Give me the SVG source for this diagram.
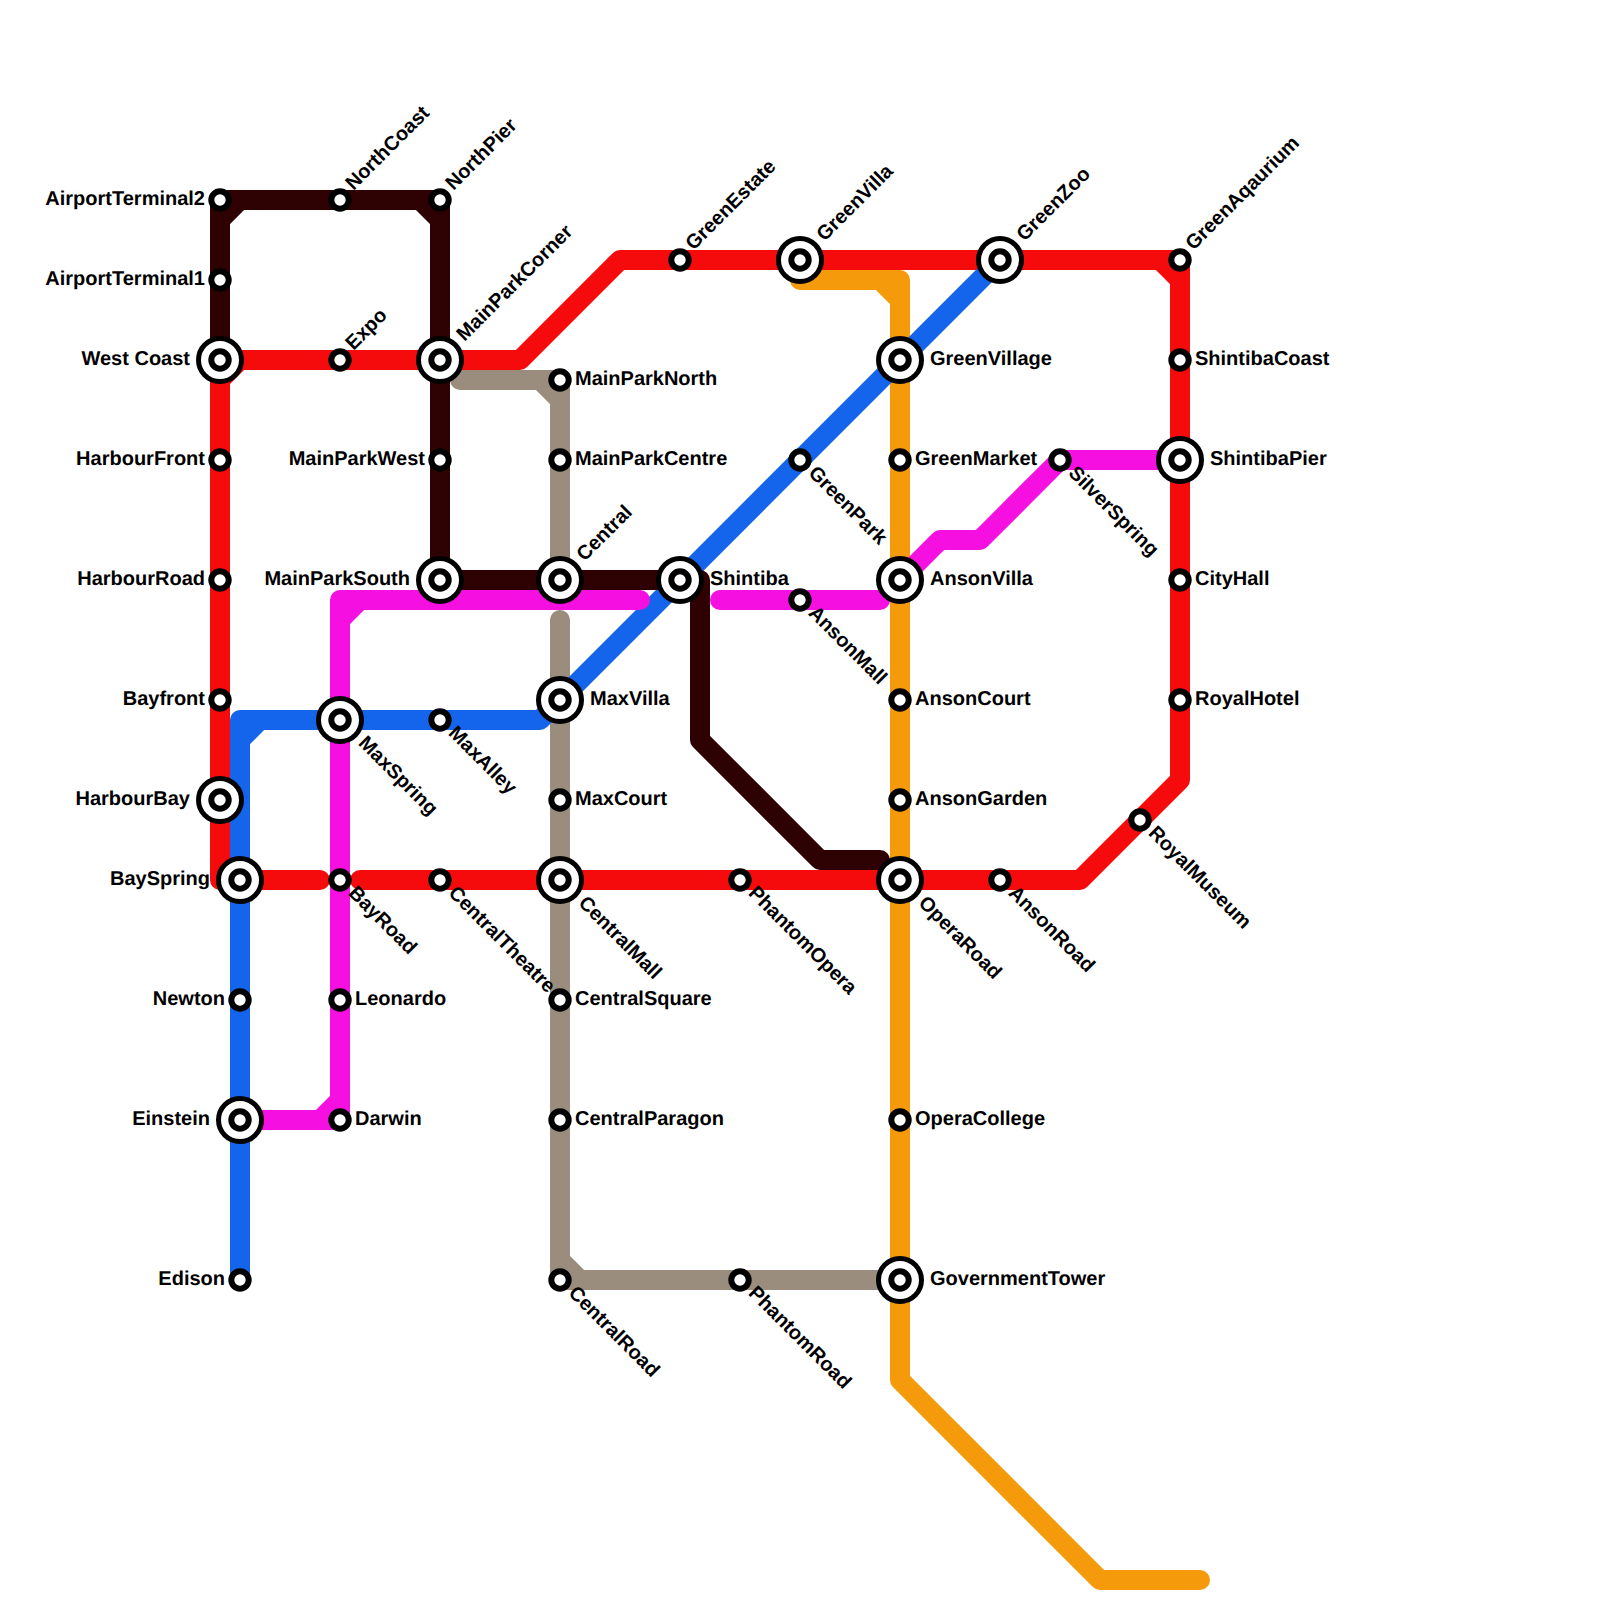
<svg xmlns="http://www.w3.org/2000/svg" width="1600" height="1600" viewBox="0 0 1600 1600">
<defs>
<style>
.l{fill:none;stroke-width:20;stroke-linecap:round;stroke-linejoin:round}
.s{fill:#fff;stroke:#000;stroke-width:6}
.o{fill:#fff;stroke:#000;stroke-width:5}
text{font-family:"Liberation Sans",Arial,sans-serif;font-weight:700;font-size:20px;fill:#000;text-rendering:geometricPrecision}
.e{text-anchor:end}
</style>
<g id="sm"><circle class="s" r="8.7"/></g>
<g id="ix"><circle class="o" r="21.5"/><circle class="s" r="8.7"/></g>
</defs>
<rect width="1600" height="1600" fill="#fff"/>
<g id="connectors">
<path class="l" stroke="#f50b0b" d="M360,880H1080L1180,780V260H620L520,360H220V880H320M1160,260L1180,280M220,380L240,360"/>
<path class="l" stroke="#9a8d7d" d="M460,380H560V580M540,380L560,400M560,620V1280H900M560,1260L580,1280"/>
<path class="l" stroke="#f59a0b" d="M800,280H900V1380L1100,1580H1200M880,280L900,300"/>
<path class="l" stroke="#1565ec" d="M240,1280V720H540L1000,260M240,740L260,720"/>
<path class="l" stroke="#f50fe0" d="M640,600H340V1120H240M340,620L360,600M340,1100L320,1120M720,600H880M900,580L940,540H980L1060,460H1180"/>
<path class="l" stroke="#2e0103" d="M220,360V200H440V580H700V740L820,860H880M220,220L240,200M420,200L440,220"/>
</g>
<g id="n-AirportTerminal2"><use href="#sm" x="220" y="200"/><text class="e" x="205" y="205">AirportTerminal2</text></g>
<g id="n-AirportTerminal1"><use href="#sm" x="220" y="280"/><text class="e" x="205" y="285">AirportTerminal1</text></g>
<g id="n-WestCoast"><use href="#ix" x="220" y="360"/><text class="e" x="190" y="365">West Coast</text></g>
<g id="n-HarbourFront"><use href="#sm" x="220" y="460"/><text class="e" x="205" y="465">HarbourFront</text></g>
<g id="n-HarbourRoad"><use href="#sm" x="220" y="580"/><text class="e" x="205" y="585">HarbourRoad</text></g>
<g id="n-Bayfront"><use href="#sm" x="220" y="700"/><text class="e" x="205" y="705">Bayfront</text></g>
<g id="n-HarbourBay"><use href="#ix" x="220" y="800"/><text class="e" x="190" y="805">HarbourBay</text></g>
<g id="n-BaySpring"><use href="#ix" x="240" y="880"/><text class="e" x="210" y="885">BaySpring</text></g>
<g id="n-Newton"><use href="#sm" x="240" y="1000"/><text class="e" x="225" y="1005">Newton</text></g>
<g id="n-Einstein"><use href="#ix" x="240" y="1120"/><text class="e" x="210" y="1125">Einstein</text></g>
<g id="n-Edison"><use href="#sm" x="240" y="1280"/><text class="e" x="225" y="1285">Edison</text></g>
<g id="n-NorthCoast"><use href="#sm" x="340" y="200"/><text transform="translate(353.5,191) rotate(-45)">NorthCoast</text></g>
<g id="n-NorthPier"><use href="#sm" x="440" y="200"/><text transform="translate(453.5,191) rotate(-45)">NorthPier</text></g>
<g id="n-Expo"><use href="#sm" x="340" y="360"/><text transform="translate(353.5,351) rotate(-45)">Expo</text></g>
<g id="n-MainParkCorner"><use href="#ix" x="440" y="360"/><text transform="translate(464.5,342) rotate(-45)">MainParkCorner</text></g>
<g id="n-MainParkWest"><use href="#sm" x="440" y="460"/><text class="e" x="425" y="465">MainParkWest</text></g>
<g id="n-MainParkSouth"><use href="#ix" x="440" y="580"/><text class="e" x="410" y="585">MainParkSouth</text></g>
<g id="n-MainParkNorth"><use href="#sm" x="560" y="380"/><text x="575" y="385">MainParkNorth</text></g>
<g id="n-MainParkCentre"><use href="#sm" x="560" y="460"/><text x="575" y="465">MainParkCentre</text></g>
<g id="n-Central"><use href="#ix" x="560" y="580"/><text transform="translate(584.5,562) rotate(-45)">Central</text></g>
<g id="n-Shintiba"><use href="#ix" x="680" y="580"/><text x="710" y="585">Shintiba</text></g>
<g id="n-MaxVilla"><use href="#ix" x="560" y="700"/><text x="590" y="705">MaxVilla</text></g>
<g id="n-MaxSpring"><use href="#ix" x="340" y="720"/><text transform="translate(357.5,744) rotate(45)">MaxSpring</text></g>
<g id="n-MaxAlley"><use href="#sm" x="440" y="720"/><text transform="translate(447.5,734) rotate(45)">MaxAlley</text></g>
<g id="n-MaxCourt"><use href="#sm" x="560" y="800"/><text x="575" y="805">MaxCourt</text></g>
<g id="n-BayRoad"><use href="#sm" x="340" y="880"/><text transform="translate(347.5,894) rotate(45)">BayRoad</text></g>
<g id="n-CentralTheatre"><use href="#sm" x="440" y="880"/><text transform="translate(447.5,894) rotate(45)">CentralTheatre</text></g>
<g id="n-CentralMall"><use href="#ix" x="560" y="880"/><text transform="translate(577.5,904) rotate(45)">CentralMall</text></g>
<g id="n-PhantomOpera"><use href="#sm" x="740" y="880"/><text transform="translate(747.5,894) rotate(45)">PhantomOpera</text></g>
<g id="n-OperaRoad"><use href="#ix" x="900" y="880"/><text transform="translate(917.5,904) rotate(45)">OperaRoad</text></g>
<g id="n-AnsonRoad"><use href="#sm" x="1000" y="880"/><text transform="translate(1007.5,894) rotate(45)">AnsonRoad</text></g>
<g id="n-Leonardo"><use href="#sm" x="340" y="1000"/><text x="355" y="1005">Leonardo</text></g>
<g id="n-Darwin"><use href="#sm" x="340" y="1120"/><text x="355" y="1125">Darwin</text></g>
<g id="n-CentralSquare"><use href="#sm" x="560" y="1000"/><text x="575" y="1005">CentralSquare</text></g>
<g id="n-CentralParagon"><use href="#sm" x="560" y="1120"/><text x="575" y="1125">CentralParagon</text></g>
<g id="n-CentralRoad"><use href="#sm" x="560" y="1280"/><text transform="translate(567.5,1294) rotate(45)">CentralRoad</text></g>
<g id="n-PhantomRoad"><use href="#sm" x="740" y="1280"/><text transform="translate(747.5,1294) rotate(45)">PhantomRoad</text></g>
<g id="n-GovernmentTower"><use href="#ix" x="900" y="1280"/><text x="930" y="1285">GovernmentTower</text></g>
<g id="n-OperaCollege"><use href="#sm" x="900" y="1120"/><text x="915" y="1125">OperaCollege</text></g>
<g id="n-AnsonGarden"><use href="#sm" x="900" y="800"/><text x="915" y="805">AnsonGarden</text></g>
<g id="n-AnsonCourt"><use href="#sm" x="900" y="700"/><text x="915" y="705">AnsonCourt</text></g>
<g id="n-AnsonMall"><use href="#sm" x="800" y="600"/><text transform="translate(807.5,614) rotate(45)">AnsonMall</text></g>
<g id="n-AnsonVilla"><use href="#ix" x="900" y="580"/><text x="930" y="585">AnsonVilla</text></g>
<g id="n-GreenMarket"><use href="#sm" x="900" y="460"/><text x="915" y="465">GreenMarket</text></g>
<g id="n-GreenPark"><use href="#sm" x="800" y="460"/><text transform="translate(807.5,474) rotate(45)">GreenPark</text></g>
<g id="n-GreenVillage"><use href="#ix" x="900" y="360"/><text x="930" y="365">GreenVillage</text></g>
<g id="n-GreenEstate"><use href="#sm" x="680" y="260"/><text transform="translate(693.5,251) rotate(-45)">GreenEstate</text></g>
<g id="n-GreenVilla"><use href="#ix" x="800" y="260"/><text transform="translate(824.5,242) rotate(-45)">GreenVilla</text></g>
<g id="n-GreenZoo"><use href="#ix" x="1000" y="260"/><text transform="translate(1024.5,242) rotate(-45)">GreenZoo</text></g>
<g id="n-GreenAqaurium"><use href="#sm" x="1180" y="260"/><text transform="translate(1193.5,251) rotate(-45)">GreenAqaurium</text></g>
<g id="n-ShintibaCoast"><use href="#sm" x="1180" y="360"/><text x="1195" y="365">ShintibaCoast</text></g>
<g id="n-ShintibaPier"><use href="#ix" x="1180" y="460"/><text x="1210" y="465">ShintibaPier</text></g>
<g id="n-SilverSpring"><use href="#sm" x="1060" y="460"/><text transform="translate(1067.5,474) rotate(45)">SilverSpring</text></g>
<g id="n-CityHall"><use href="#sm" x="1180" y="580"/><text x="1195" y="585">CityHall</text></g>
<g id="n-RoyalHotel"><use href="#sm" x="1180" y="700"/><text x="1195" y="705">RoyalHotel</text></g>
<g id="n-RoyalMuseum"><use href="#sm" x="1140" y="820"/><text transform="translate(1147.5,834) rotate(45)">RoyalMuseum</text></g>
</svg>
